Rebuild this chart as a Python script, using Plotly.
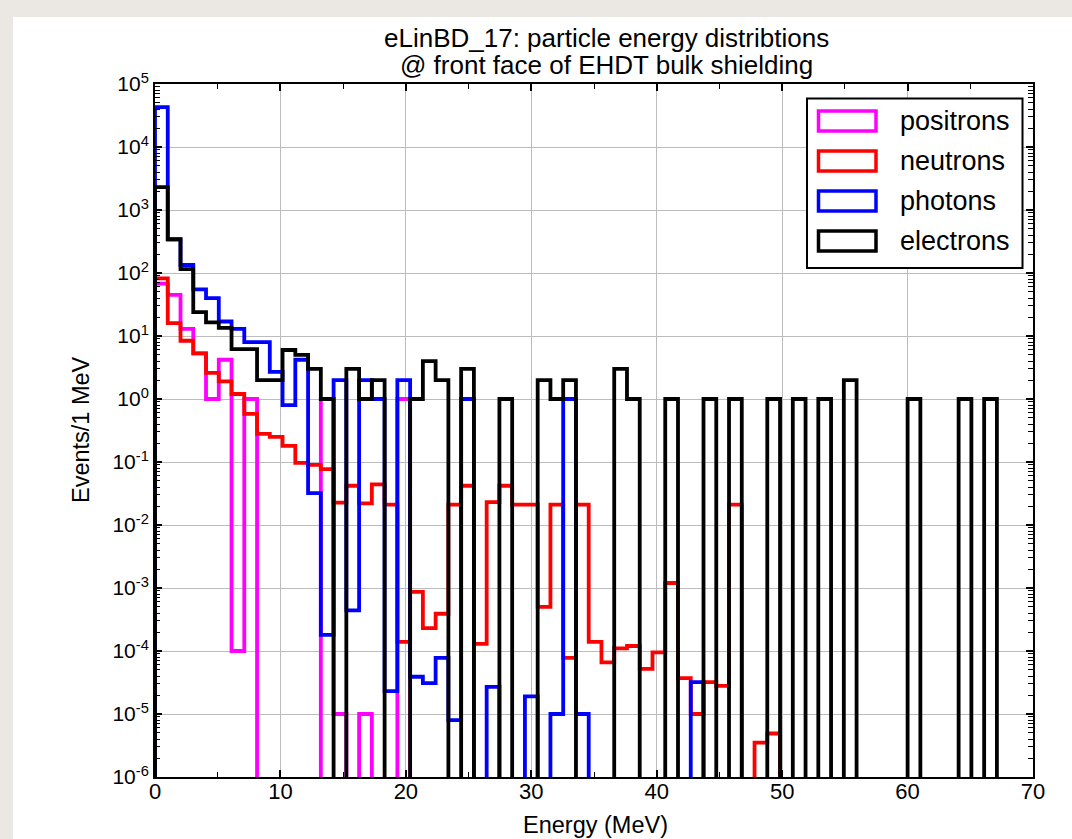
import plotly.graph_objects as go

# ---------------- data ----------------
BIN_WIDTH = 1.017  # MeV per histogram bin

positrons = [68, 45, 13, 5.3, 1.0, 4.2, 1.0e-4, 1.0, 0, 0,
             0, 0, 0, 1.0, 1.0e-5, 0, 1.0e-5, 0, 0, 1.0,
             0, 0, 0, 0, 0, 0, 0, 0, 0, 0,
             0, 0, 0, 0, 0, 0, 0, 0, 0, 0,
             0, 0, 0, 0, 0, 0, 0, 0, 0, 0,
             0, 0, 0, 0, 0, 0, 0, 0, 0, 0,
             0, 0, 0, 0, 0, 0, 0, 0, 0, 0]

neutrons = [82, 16, 8.4, 5.3, 2.6, 1.9, 1.2, 0.58, 0.28, 0.25,
            0.18, 0.097, 0.09, 0.077, 0.0226, 0.042, 0.022, 0.044, 0.021, 1.4e-4,
            8.7e-4, 2.3e-4, 3.9e-4, 0.021, 0.042, 1.3e-4, 0.023, 0.042, 0.021, 0.021,
            5.0e-4, 0.021, 7.8e-5, 0.021, 1.4e-4, 6.6e-5, 1.1e-4, 1.2e-4, 5.2e-5, 9.5e-5,
            1.2e-3, 3.7e-5, 1.0e-5, 3.2e-5, 2.8e-5, 0.021, 0, 3.5e-6, 4.9e-6, 0,
            0, 0, 0, 0, 0, 0, 0, 0, 0, 0,
            0, 0, 0, 0, 0, 0, 0, 0, 0, 0]

photons = [43000, 340, 134, 55, 40, 17, 13, 8.0, 8.0, 2.7,
           0.8, 4.2, 0.032, 1.8e-4, 2.0, 4.4e-4, 2.0, 1.0, 2.3e-5, 2.0,
           3.9e-5, 3.1e-5, 7.8e-5, 8.0e-6, 1.0, 0, 2.7e-5, 0, 0, 1.9e-5,
           0, 1.0e-5, 1.0, 1.0e-5, 0, 0, 0, 0, 0, 0,
           0, 0, 3.2e-5, 0, 0, 0, 0, 0, 0, 0,
           0, 0, 0, 0, 0, 0, 0, 0, 0, 0,
           0, 0, 0, 0, 0, 0, 0, 0, 0, 0]

electrons = [2300, 345, 115, 24, 16.5, 13.5, 6.2, 6.2, 2.0, 2.0,
             6.0, 5.0, 3.0, 1.0, 0, 3.0, 1.0, 2.0, 0, 0,
             1.0, 4.0, 2.0, 0, 3.0, 0, 0, 1.0, 0, 0,
             2.0, 1.0, 2.0, 0, 0, 0, 3.0, 1.0, 0, 0,
             1.0, 0, 0, 1.0, 0, 1.0, 0, 0, 1.0, 0,
             1.0, 0, 1.0, 0, 2.0, 0, 0, 0, 0, 1.0,
             0, 0, 0, 1.0, 0, 1.0, 0, 0, 0, 0]

series_names = ["positrons", "neutrons", "photons", "electrons"]
series_values = [positrons, neutrons, photons, electrons]
series_colors = ["#ff00ff", "#ff0000", "#0000ff", "#000000"]

y_tick_exponents = [-6, -5, -4, -3, -2, -1, 0, 1, 2, 3, 4, 5]
x_tick_values = [0, 10, 20, 30, 40, 50, 60, 70]

# ---------------- geometry helpers ----------------
FIG_W, FIG_H = 1072, 839
L, R, T, B = 155, 1033, 84, 777
PW, PH = R - L, B - T


def px(x):
    return (x - L) / PW


def py(y):
    return (B - y) / PH


FLOOR = 1e-9  # empty bins fall below the visible axis range


def step_outline(vals):
    xs, ys = [0.0], [FLOOR]
    for i, v in enumerate(vals):
        v = v if v > 0 else FLOOR
        xs += [i * BIN_WIDTH, (i + 1) * BIN_WIDTH]
        ys += [v, v]
    xs.append(len(vals) * BIN_WIDTH)
    ys.append(FLOOR)
    return xs, ys


fig = go.Figure()
for name, vals, col in zip(series_names, series_values, series_colors):
    xs, ys = step_outline(vals)
    fig.add_trace(go.Scatter(x=xs, y=ys, mode="lines", name=name,
                             line=dict(color=col, width=3.8),
                             showlegend=False, hoverinfo="skip"))

FONT = "Liberation Sans, Arial, Helvetica, sans-serif"

y_minor = [m * 10.0 ** k for k in range(-6, 5) for m in range(2, 10)]

fig.update_xaxes(
    range=[0, 70], tickmode="array", tickvals=x_tick_values,
    ticktext=[str(v) for v in x_tick_values],
    ticks="inside", ticklen=7, tickwidth=1.5, tickcolor="black",
    showline=True, linecolor="black", linewidth=2, mirror="allticks",
    showgrid=True, gridcolor="#bcbcbc", gridwidth=1.4, zeroline=False,
    minor=dict(tickmode="array", tickvals=[5, 15, 25, 35, 45, 55, 65],
               ticks="inside", ticklen=5, tickwidth=1.3, tickcolor="black",
               showgrid=False),
    tickfont=dict(family=FONT, size=22, color="black"),
    ticklabelstandoff=-6,
)
fig.update_yaxes(
    type="log", range=[-6, 5], tickmode="array",
    tickvals=[10.0 ** e for e in y_tick_exponents],
    ticktext=["10<sup>%d</sup>" % e for e in y_tick_exponents],
    ticks="inside", ticklen=7, tickwidth=1.5, tickcolor="black",
    showline=True, linecolor="black", linewidth=2, mirror="allticks",
    showgrid=True, gridcolor="#bcbcbc", gridwidth=1.4, zeroline=False,
    minor=dict(tickmode="array", tickvals=y_minor,
               ticks="inside", ticklen=5, tickwidth=1.3, tickcolor="black",
               showgrid=False),
    tickfont=dict(family=FONT, size=21, color="black"),
)

shapes = [
    # white page panel on the beige background
    dict(type="rect", xref="paper", yref="paper",
         x0=px(13), x1=px(FIG_W + 5), y0=py(FIG_H + 5), y1=py(17),
         fillcolor="white", line=dict(width=0), layer="below"),
    # legend box
    dict(type="rect", xref="paper", yref="paper",
         x0=px(807), x1=px(1022.5), y0=py(268), y1=py(98.5),
         fillcolor="white", line=dict(color="black", width=2), layer="above"),
]
annotations = []
legend_rows = [121, 161, 201, 241]
for name, col, yc in zip(series_names, series_colors, legend_rows):
    shapes.append(dict(type="rect", xref="paper", yref="paper",
                       x0=px(818.5), x1=px(876), y0=py(yc + 10), y1=py(yc - 10),
                       fillcolor="white", line=dict(color=col, width=3.5),
                       layer="above"))
    annotations.append(dict(text=name, xref="paper", yref="paper",
                            x=px(898), y=py(yc), xanchor="left", yanchor="middle",
                            showarrow=False,
                            font=dict(family=FONT, size=27, color="black")))

TITLE_X = px(606)
annotations += [
    dict(text="eLinBD_17: particle energy distribtions", xref="paper", yref="paper",
         x=TITLE_X, y=py(38), xanchor="center", yanchor="middle", showarrow=False,
         font=dict(family=FONT, size=26, color="black")),
    dict(text="@ front face of EHDT bulk shielding", xref="paper", yref="paper",
         x=TITLE_X, y=py(65), xanchor="center", yanchor="middle", showarrow=False,
         font=dict(family=FONT, size=26, color="black")),
    dict(text="Energy (MeV)", xref="paper", yref="paper",
         x=px(595), y=py(825), xanchor="center", yanchor="middle", showarrow=False,
         font=dict(family=FONT, size=23.5, color="black")),
    dict(text="Events/1 MeV", xref="paper", yref="paper",
         x=px(81), y=py(430), xanchor="center", yanchor="middle", showarrow=False,
         textangle=-90, font=dict(family=FONT, size=23.5, color="black")),
]

fig.update_layout(
    width=FIG_W, height=FIG_H,
    margin=dict(l=L, r=FIG_W - R, t=T, b=FIG_H - B, pad=0),
    paper_bgcolor="#ebe8e3", plot_bgcolor="white",
    shapes=shapes, annotations=annotations, showlegend=False,
    font=dict(family=FONT, color="black"),
)

fig.write_html("out.html")
